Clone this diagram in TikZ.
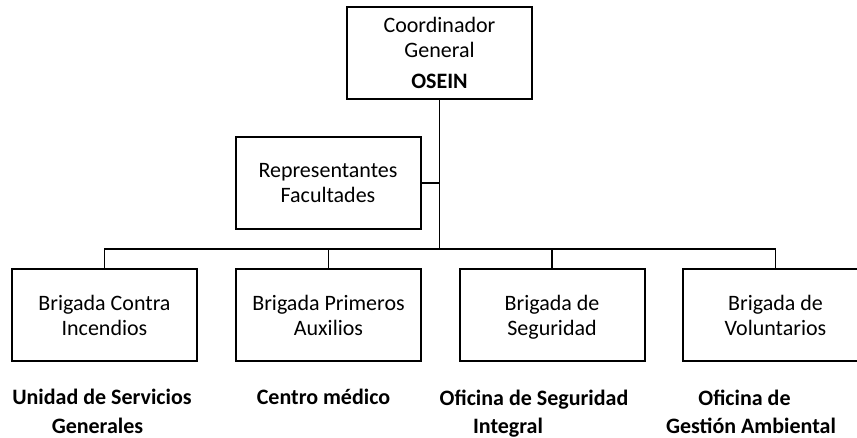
\documentclass[tikz,border=0pt]{standalone}
\usepackage{fontspec}
\setmainfont{Carlito}
\begin{document}
\begin{tikzpicture}[x=1pt,y=-1pt,
  box/.style={draw, line width=2pt, minimum width=185pt, minimum height=92pt, inner sep=0pt, align=center, font=\fontsize{22}{25}\selectfont},
  lbl/.style={font=\fontsize{22}{29}\selectfont\bfseries, anchor=base, inner sep=0pt},
  conn/.style={line width=1.9pt}]
\useasboundingbox (0,0) rectangle (857,437);
\clip (0,0) rectangle (857,437);
\node[box] (top) at (439.5,53) {Coordinador\\General\\[6pt]\textbf{OSEIN}};
\node[box] (rep) at (328,183) {Representantes\\Facultades};
\node[box] (b1) at (104.5,315) {Brigada Contra\\Incendios};
\node[box] (b2) at (328.5,315) {Brigada Primeros\\Auxilios};
\node[box] (b3) at (552,315) {Brigada de\\\raisebox{0pt}[\height][0pt]{Seguridad}};
\node[box] (b4) at (775.5,315) {Brigada de\\Voluntarios};
\coordinate (bus) at (439.5,249);
\draw[conn] (top.south) -- (bus);
\draw[conn] (rep.east) -- (rep.east -| top.south);
\draw[conn] (b1.north) -- (b1.north |- bus) -| (b4.north);
\draw[conn] (b2.north) -- (b2.north |- bus);
\draw[conn] (b3.north) -- (b3.north |- bus);
\node[lbl] (l1a) at (102,404) {Unidad de Servicios};
\node[lbl] (l1b) at (97.5,433) {Generales};
\node[lbl] (l2) at (323.5,404) {Centro médico};
\node[lbl] (l3a) at (534,405) {Oficina de Seguridad};
\node[lbl] (l3b) at (508,433) {Integral};
\node[lbl] (l4a) at (744.5,405) {Oficina de};
\node[lbl] (l4b) at (751,433) {Gestión Ambiental};
\end{tikzpicture}
\end{document}
